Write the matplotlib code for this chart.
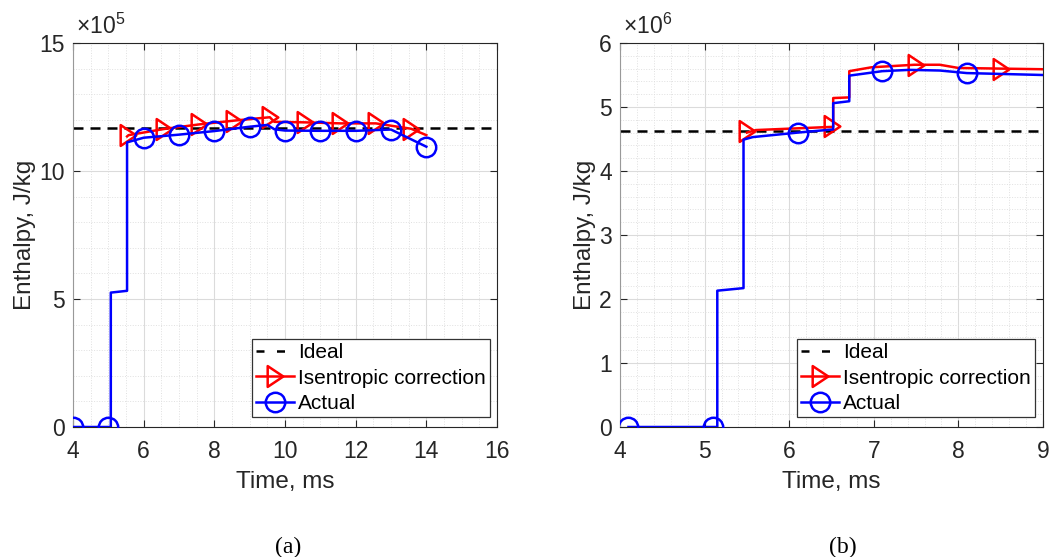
import matplotlib as mpl
import matplotlib.pyplot as plt
from matplotlib.lines import Line2D
from matplotlib.path import Path

plt.rcParams['font.family'] = ['Liberation Sans', 'DejaVu Sans']
plt.rcParams['mathtext.fontset'] = 'custom'
plt.rcParams['mathtext.rm'] = 'Liberation Sans'

# (a) enthalpy in units of 1e5 J/kg
t_act_a = [4.0, 5.07, 5.07, 5.53, 5.53, 6.0, 7.0, 8.0, 9.0, 9.5, 9.7, 10.0, 11.0, 12.0, 13.0, 14.0]
h_act_a = [0.0, 0.0, 5.25, 5.32, 11.12, 11.3, 11.42, 11.56, 11.73, 11.8, 11.63, 11.58, 11.57, 11.57, 11.62, 10.95]
t_act_mk_a = [4, 5, 6, 7, 8, 9, 10, 11, 12, 13, 14]
h_act_mk_a = [0, 0, 11.3, 11.42, 11.56, 11.73, 11.58, 11.57, 11.57, 11.62, 10.95]
t_isen_a = [5.53, 5.57, 6.57, 7.57, 8.57, 9.57, 9.7, 10.57, 11.57, 12.57, 13.57, 14.0]
h_isen_a = [11.35, 11.4, 11.64, 11.82, 11.97, 12.1, 11.92, 11.9, 11.86, 11.86, 11.65, 11.4]
t_isen_mk_a = [5.57, 6.57, 7.57, 8.57, 9.57, 10.57, 11.57, 12.57, 13.57]
h_isen_mk_a = [11.4, 11.64, 11.82, 11.97, 12.1, 11.9, 11.86, 11.86, 11.63]
ideal_a = 11.67

# (b) enthalpy in units of 1e6 J/kg
t_act_b = [4.1, 5.15, 5.15, 5.46, 5.46, 5.57, 6.1, 6.52, 6.52, 6.71, 6.71, 7.1, 7.42, 7.78, 8.1, 9.0]
h_act_b = [0.0, 0.0, 2.13, 2.17, 4.49, 4.53, 4.6, 4.65, 5.06, 5.09, 5.49, 5.56, 5.58, 5.57, 5.53, 5.50]
t_act_mk_b = [4.1, 5.1, 6.1, 7.1, 8.1]
h_act_mk_b = [0, 0, 4.6, 5.56, 5.53]
t_isen_b = [5.5, 5.61, 6.52, 6.52, 6.71, 6.71, 6.97, 7.48, 7.78, 8.0, 8.49, 9.0]
h_isen_b = [4.6, 4.64, 4.69, 5.14, 5.15, 5.56, 5.62, 5.66, 5.66, 5.61, 5.6, 5.59]
t_isen_mk_b = [5.5, 6.5, 7.5, 8.5]
h_isen_mk_b = [4.62, 4.7, 5.66, 5.6]
ideal_b = 4.62

W, H = 1051, 557
fig = plt.figure(figsize=(W / 100, H / 100), dpi=100)

tri = Path([(-0.75, 1), (-0.75, -1), (0.75, 0), (-0.75, 1)],
           [Path.MOVETO, Path.LINETO, Path.LINETO, Path.CLOSEPOLY])
LW = 1.8
mk_tri = dict(marker=tri, ms=15, mfc='none', mec='r', mew=LW, ls='none')
mk_circ = dict(marker='o', ms=14, mfc='none', mec='b', mew=LW, ls='none')


def setup(ax, xlim, xmaj, xmin, ylim, ymaj, ymin, expo):
    ax.set_xlim(*xlim)
    ax.set_ylim(*ylim)
    ax.xaxis.set_major_locator(mpl.ticker.MultipleLocator(xmaj))
    ax.xaxis.set_minor_locator(mpl.ticker.MultipleLocator(xmin))
    ax.yaxis.set_major_locator(mpl.ticker.MultipleLocator(ymaj))
    ax.yaxis.set_minor_locator(mpl.ticker.MultipleLocator(ymin))
    ax.grid(which='major', c='0.86', lw=0.8)
    ax.grid(which='minor', c='0.88', lw=0.7, ls=':')
    ax.set_axisbelow(True)
    ax.tick_params(which='major', direction='in', length=5, width=0.8,
                   top=True, right=True, labelsize=16.5, colors='0.15')
    ax.tick_params(axis='x', pad=9)
    ax.tick_params(axis='y', pad=6)
    ax.tick_params(which='minor', length=0)
    for s in ax.spines.values():
        s.set_color('0.15')
        s.set_linewidth(0.8)
    ax.spines['left'].set_color('0.6')
    ax.set_xlabel('Time, ms', fontsize=17.5, color='0.15', labelpad=6)
    ax.set_ylabel('Enthalpy, J/kg', fontsize=17.5, color='0.15', labelpad=2)
    ax.text(0.008, 1.01, r'$\times 10^{%d}$' % expo, transform=ax.transAxes,
            fontsize=16.5, color='0.15', va='bottom', ha='left')


def draw(ax, ideal, t_isen, h_isen, ti_mk, hi_mk, t_act, h_act, ta_mk, ha_mk, anchor_x):
    ax.axhline(ideal, c='k', lw=LW, dashes=(4, 2.8), zorder=2)
    ax.plot(t_isen, h_isen, c='r', lw=LW, zorder=3)
    ax.plot(ti_mk, hi_mk, zorder=3, **mk_tri)
    ax.plot(t_act, h_act, c='b', lw=LW, zorder=4)
    ax.plot(ta_mk, ha_mk, zorder=4, **mk_circ)
    handles = [Line2D([], [], c='k', lw=LW, dashes=(3.2, 5)),
               Line2D([], [], c='r', lw=LW, marker=tri, ms=15, mfc='none', mec='r', mew=LW),
               Line2D([], [], c='b', lw=LW, marker='o', ms=14, mfc='none', mec='b', mew=LW)]
    leg = ax.legend(handles, ['Ideal', 'Isentropic correction', 'Actual'],
                    loc='lower right', bbox_to_anchor=(anchor_x, 0.026), borderaxespad=0,
                    fontsize=15, handlelength=1.8, handletextpad=0.2, labelspacing=0.3,
                    borderpad=0.2, fancybox=False, framealpha=1, edgecolor='0.2',
                    numpoints=1)
    leg.get_frame().set_linewidth(0.9)
    leg.set_zorder(10)


ax1 = fig.add_axes([73 / W, (H - 427) / H, 424 / W, 384 / H])
setup(ax1, (4, 16), 2, 0.5, (0, 15), 5, 1, 5)
draw(ax1, ideal_a, t_isen_a, h_isen_a, t_isen_mk_a, h_isen_mk_a,
     t_act_a, h_act_a, t_act_mk_a, h_act_mk_a, 0.983)

ax2 = fig.add_axes([620 / W, (H - 427) / H, 423 / W, 384 / H])
setup(ax2, (4, 9), 1, 0.2, (0, 6), 1, 0.2, 6)
draw(ax2, ideal_b, t_isen_b, h_isen_b, t_isen_mk_b, h_isen_mk_b,
     t_act_b, h_act_b, t_act_mk_b, h_act_mk_b, 0.981)

for x, lab in [(288, '(a)'), (843, '(b)')]:
    fig.text(x / W, 1 - 547 / H, lab, family='Liberation Serif', fontsize=17,
             ha='center', va='center')

fig.savefig('out.png', dpi=100)
